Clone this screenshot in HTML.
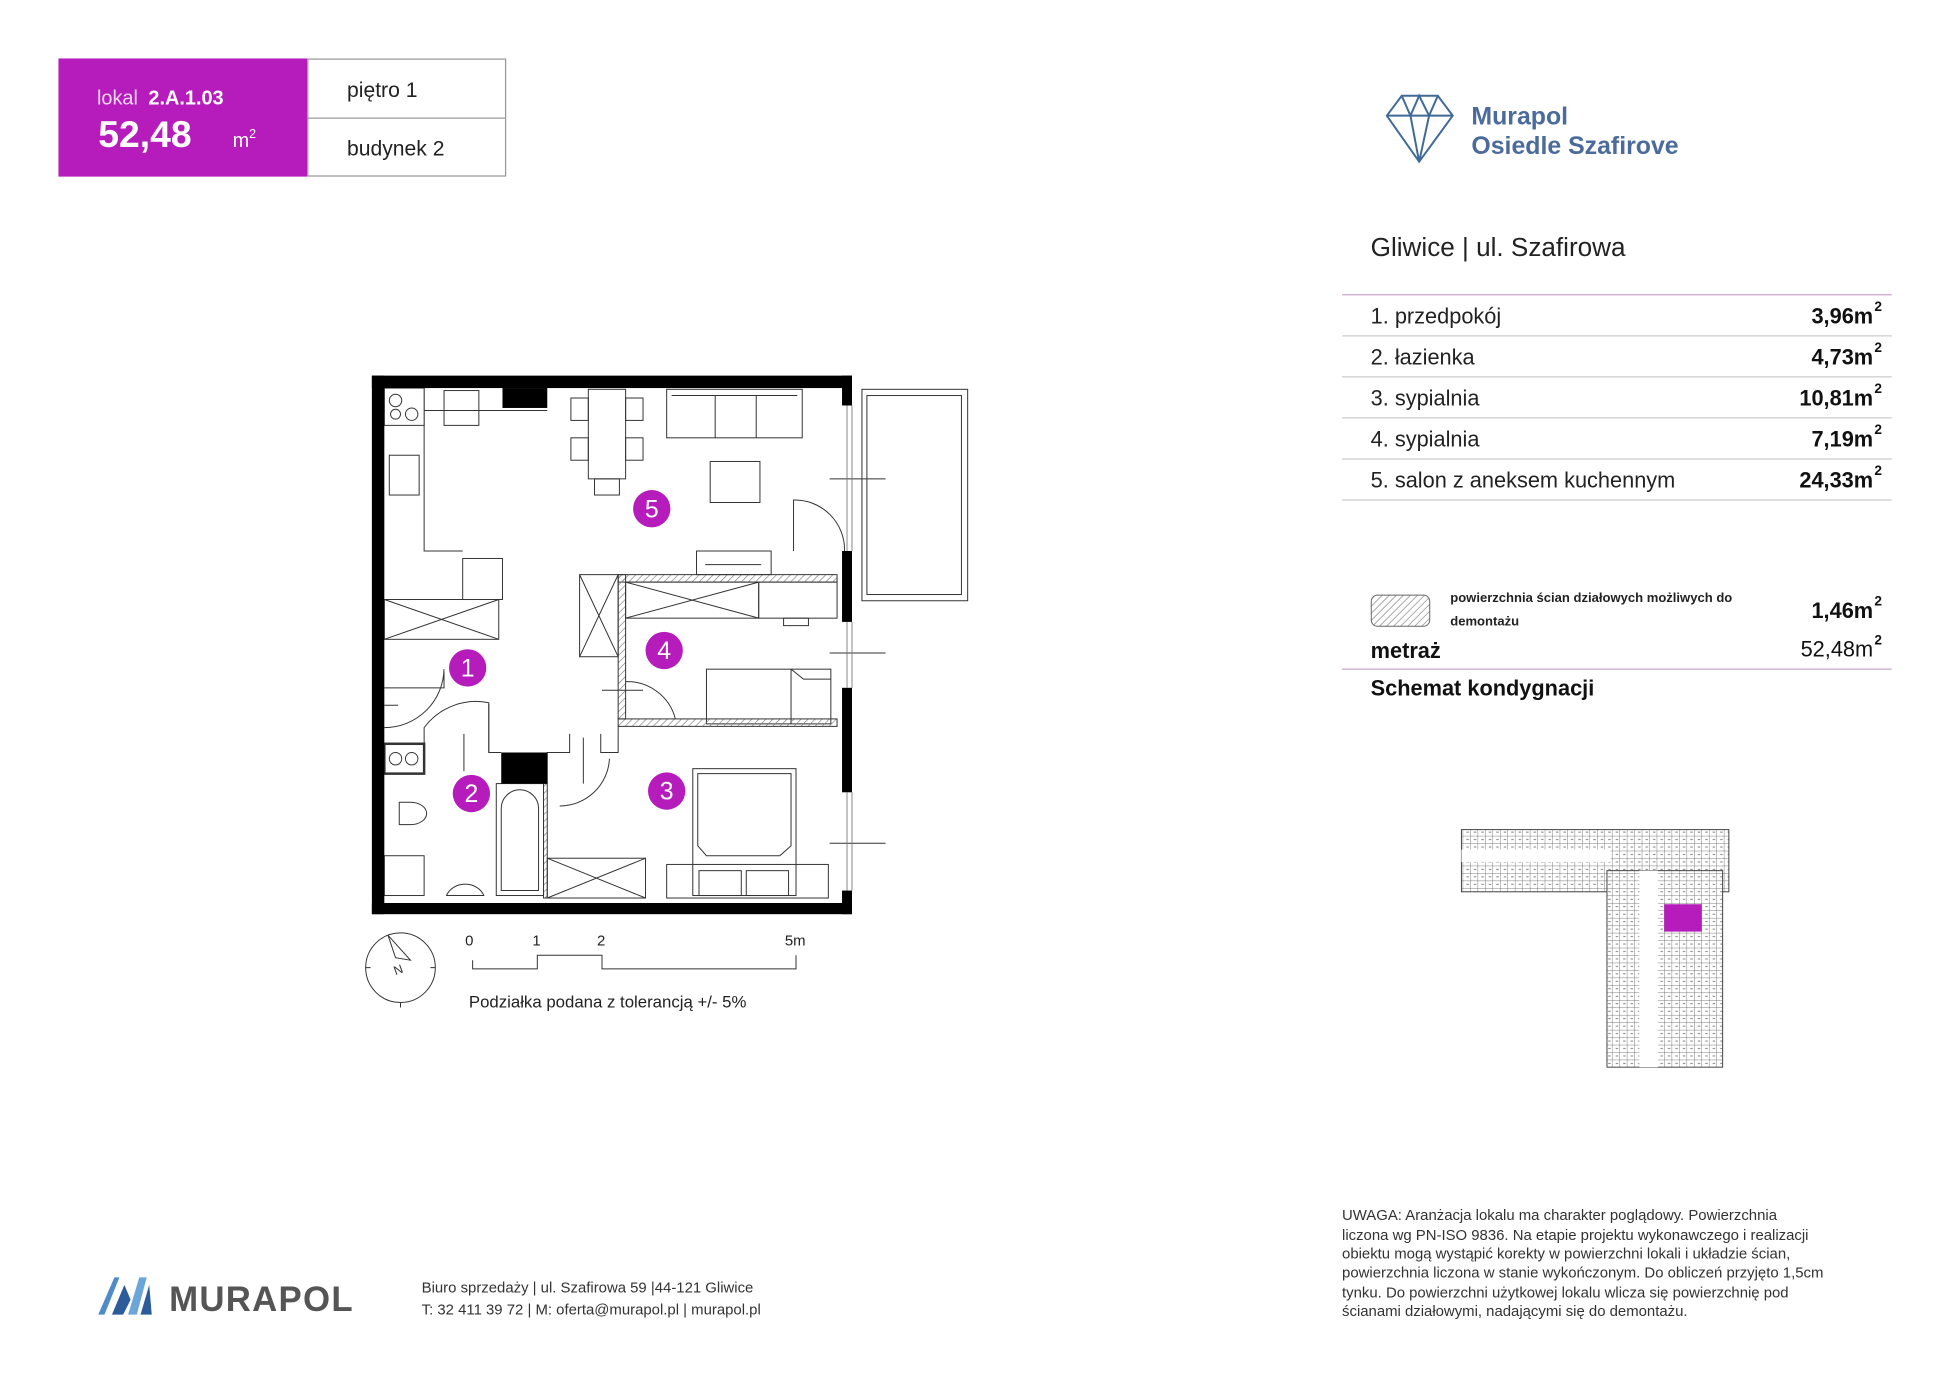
<!DOCTYPE html>
<html><head><meta charset="utf-8"><style>
html,body{margin:0;padding:0;background:#fff;}
svg{display:block;}
text{font-family:"Liberation Sans",sans-serif;}
</style></head><body>
<svg width="1949" height="1378" viewBox="0 0 1567 1107.9" xmlns="http://www.w3.org/2000/svg">
<defs>
<pattern id="h" width="4" height="4" patternUnits="userSpaceOnUse" patternTransform="rotate(45)"><line x1="0" y1="0" x2="0" y2="4" stroke="#777" stroke-width="1"/></pattern>
<pattern id="bld" width="6" height="6" patternUnits="userSpaceOnUse"><rect width="6" height="6" fill="#fff"/><path d="M0 0H6M0 0V6M3 3h2" stroke="#555" stroke-width="0.6" fill="none"/></pattern>
</defs>
<rect x="47" y="47" width="200" height="95" fill="#b51cbb"/>
<rect x="247.5" y="47.5" width="159" height="94" fill="#fff" stroke="#999"/>
<line x1="247" y1="95" x2="406" y2="95" stroke="#999"/>
<text x="78" y="84" fill="#f2d6f3" font-size="16">lokal <tspan font-weight="bold" fill="#fff" dx="4">2.A.1.03</tspan></text>
<text x="79" y="118" fill="#fff" font-size="30" font-weight="bold">52,48</text>
<text x="187" y="118" fill="#fff" font-size="16">m<tspan font-size="10" dy="-7">2</tspan></text>
<text x="279" y="78" font-size="17" fill="#222">piętro 1</text>
<text x="279" y="125" font-size="17" fill="#222">budynek 2</text>
<g fill="none" stroke="#3f6a98" stroke-width="1.6">
<path d="M1115 93 L1127 77 L1156 77 L1168 93 L1141 130 Z M1115 93 H1168 M1127 77 L1134 93 L1141 77 L1149 93 L1156 77 M1134 93 L1141 130 L1149 93"/>
</g>
<text x="1183" y="100" fill="#4a6b9c" font-size="20" font-weight="bold">Murapol</text>
<text x="1183" y="124" fill="#4a6b9c" font-size="20" font-weight="bold">Osiedle Szafirove</text>
<text x="1102" y="206" fill="#222" font-size="21">Gliwice | ul. Szafirowa</text>
<g stroke="#ccc" stroke-width="1">
<line x1="1079" y1="237" x2="1521" y2="237" stroke="#c9a6cc"/>
<line x1="1079" y1="270" x2="1521" y2="270"/>
<line x1="1079" y1="303" x2="1521" y2="303"/>
<line x1="1079" y1="336" x2="1521" y2="336"/>
<line x1="1079" y1="369" x2="1521" y2="369"/>
<line x1="1079" y1="402" x2="1521" y2="402"/>
<line x1="1079" y1="538" x2="1521" y2="538" stroke="#c9a6cc"/>
</g>
<g font-size="17.5" fill="#222">
<text x="1102" y="260">1. przedpokój</text>
<text x="1102" y="293">2. łazienka</text>
<text x="1102" y="326">3. sypialnia</text>
<text x="1102" y="359">4. sypialnia</text>
<text x="1102" y="392">5. salon z aneksem kuchennym</text>
</g>
<g font-size="17.5" fill="#111" font-weight="bold" text-anchor="end">
<text x="1506" y="260">3,96m</text><text x="1506" y="293">4,73m</text><text x="1506" y="326">10,81m</text><text x="1506" y="359">7,19m</text><text x="1506" y="392">24,33m</text>
<text x="1506" y="497">1,46m</text><text x="1506" y="528" font-weight="normal">52,48m</text>
</g>
<g font-size="11" fill="#111" font-weight="bold">
<text x="1507" y="250">2</text><text x="1507" y="283">2</text><text x="1507" y="316">2</text><text x="1507" y="349">2</text><text x="1507" y="382">2</text><text x="1507" y="487">2</text><text x="1507" y="518">2</text>
</g>
<rect x="1102.5" y="478.5" width="47" height="25" rx="5" fill="url(#h)" stroke="#666" stroke-width="0.8"/>
<text x="1166" y="484" font-size="10.5" font-weight="bold" fill="#222">powierzchnia ścian działowych możliwych do</text>
<text x="1166" y="503" font-size="10.5" font-weight="bold" fill="#222">demontażu</text>
<text x="1102" y="529" font-size="17.5" font-weight="bold" fill="#111">metraż</text>
<text x="1102" y="559" font-size="17.5" font-weight="bold" fill="#111">Schemat kondygnacji</text>
<g stroke="#444" stroke-width="0.8">
<rect x="1175" y="667" width="215" height="50" fill="url(#bld)"/>
<rect x="1292" y="700" width="93" height="158" fill="url(#bld)"/>
<rect x="1175" y="683" width="120" height="10" fill="#fff" stroke="none"/>
<rect x="1318" y="700" width="15" height="158" fill="#fff" stroke="none"/>
<rect x="1338" y="727" width="30" height="22" fill="#b51cbb" stroke="none"/>
</g>
<g font-size="12" fill="#333">
<text x="1079" y="981">UWAGA: Aranżacja lokalu ma charakter poglądowy. Powierzchnia</text>
<text x="1079" y="997">liczona wg PN-ISO 9836. Na etapie projektu wykonawczego i realizacji</text>
<text x="1079" y="1012">obiektu mogą wystąpić korekty w powierzchni lokali i układzie ścian,</text>
<text x="1079" y="1027">powierzchnia liczona w stanie wykończonym. Do obliczeń przyjęto 1,5cm</text>
<text x="1079" y="1043">tynku. Do powierzchni użytkowej lokalu wlicza się powierzchnię pod</text>
<text x="1079" y="1058">ścianami działowymi, nadającymi się do demontażu.</text>
</g>
<g fill="#4d8cc9"><path d="M79 1057 L92 1027 L96 1027 L84 1057Z"/><path d="M90 1057 L100 1033 L105 1045 L99 1057Z" fill="#2d5c9a"/><path d="M103 1057 L112 1027 L118 1027 L110 1057Z" fill="#6aa6d8"/><path d="M113 1057 L120 1033 L122 1057Z" fill="#2d5c9a"/></g>
<text x="136" y="1054" font-size="28" fill="#555" font-weight="bold" letter-spacing="1">MURAPOL</text>
<text x="339" y="1039" font-size="12" fill="#333">Biuro sprzedaży | ul. Szafirowa 59 |44-121 Gliwice</text>
<text x="339" y="1057" font-size="12" fill="#333">T: 32 411 39 72 | M: oferta@murapol.pl | murapol.pl</text>
<g fill="none" stroke="#333" stroke-width="0.8">
<rect x="693" y="313" width="85" height="170"/><rect x="697" y="318" width="76" height="160"/>
<line x1="667" y1="385" x2="712" y2="385"/><line x1="667" y1="525" x2="712" y2="525"/><line x1="667" y1="678" x2="712" y2="678"/>
<path d="M341 330 V443 H372 M309 330 H440 M341 330 V312"/>
<rect x="309" y="312" width="32" height="30" fill="#fff"/>
<circle cx="318" cy="322" r="5"/><circle cx="331" cy="333" r="5"/><circle cx="318" cy="333" r="4"/>
<rect x="357" y="314" width="28" height="28"/><rect x="313" y="366" width="24" height="32"/>
<rect x="372" y="449" width="32" height="33"/>
<rect x="309" y="482" width="92" height="32"/><path d="M309 482 L401 514 M401 482 L309 514"/>
<rect x="473" y="313" width="30" height="72"/><rect x="478" y="385" width="20" height="13"/>
<rect x="459" y="320" width="14" height="18"/><rect x="459" y="352" width="14" height="18"/><rect x="503" y="320" width="14" height="18"/><rect x="503" y="352" width="14" height="18"/>
<rect x="536" y="313" width="109" height="39"/><path d="M575 318 V352 M608 318 V352 M540 318 H641"/>
<rect x="571" y="371" width="40" height="33"/>
<rect x="560" y="443" width="60" height="19"/><line x1="567" y1="454" x2="612" y2="454"/>
<path d="M638 443 V402 A40 40 0 0 1 679 443"/>
<rect x="466" y="462" width="31" height="66"/><path d="M466 462 L497 528 M497 462 L466 528"/>
<rect x="503" y="468" width="107" height="29"/><path d="M503 468 L610 497 M610 468 L503 497"/>
<rect x="610" y="468" width="63" height="29"/><rect x="630" y="497" width="20" height="6"/>
<rect x="568" y="538" width="100" height="44"/><path d="M636 538 V582 M636 538 l10 8 h22"/>
<path d="M503 548 A40 40 0 0 1 543 578 M484 555 H517"/>
<rect x="557" y="618" width="83" height="102"/><path d="M561 622 H636 V680 L627 688 H568 L561 680 Z"/>
<rect x="536" y="695" width="130" height="27"/><rect x="562" y="700" width="34" height="20"/><rect x="600" y="700" width="34" height="20"/>
<rect x="440" y="690" width="79" height="32"/><path d="M440 690 L519 722 M519 690 L440 722"/>
<path d="M450 648 A40 40 0 0 0 490 610 M469 593 V630"/>
<path d="M309 585 A48 48 0 0 0 357 538 M309 553 H357 V540 M320 567 H309"/>
<path d="M341 605 V585 A52 52 0 0 1 393 565 V605 H403 M373 590 V620"/>
<path d="M393 566 V605"/>
<rect x="309" y="598" width="32" height="24" fill="#fff" stroke-width="2"/>
<circle cx="318" cy="610" r="5"/><circle cx="331" cy="610" r="5"/>
<rect x="399" y="630" width="38" height="90"/><path d="M403 716 V650 A15 15 0 0 1 433 650 V716 Z"/>
<path d="M321 645 H330 A13 9 0 1 1 330 663 H321 Z"/>
<rect x="309" y="688" width="32" height="32"/>
<path d="M359 720 A16 14 0 0 1 389 720 Z"/>
<path d="M440 630 V605 H458 V590 M483 590 V605 H497 V584"/>
</g>
<g fill="url(#h)" stroke="#333" stroke-width="0.8">
<rect x="497" y="462" width="176" height="6"/>
<rect x="497" y="578" width="176" height="6"/>
<rect x="497" y="462" width="6" height="116"/>
<rect x="437" y="630" width="3" height="92"/>
</g>
<g fill="#000">
<rect x="299" y="302" width="386" height="10"/>
<rect x="299" y="726" width="386" height="9"/>
<rect x="299" y="302" width="10" height="433"/>
<rect x="677" y="302" width="8" height="24"/>
<rect x="677" y="443" width="8" height="57"/>
<rect x="677" y="553" width="8" height="84"/>
<rect x="677" y="716" width="8" height="19"/>
<rect x="404" y="312" width="36" height="16"/>
<rect x="403" y="605" width="37" height="25"/>
</g>
<g stroke="#777" stroke-width="0.7" fill="none">
<path d="M681 326 V443 M681 500 V553 M681 637 V716"/><path d="M685 326 V443 M685 500 V553 M685 637 V716"/>
</g>
<g fill="#b51cbb"><circle cx="524" cy="409" r="15"/><circle cx="534" cy="523" r="15"/><circle cx="376" cy="537" r="15"/><circle cx="379" cy="638" r="15"/><circle cx="536" cy="636" r="15"/></g>
<g fill="#fff" font-size="20" text-anchor="middle"><text x="524" y="416">5</text><text x="534" y="530">4</text><text x="376" y="544">1</text><text x="379" y="645">2</text><text x="536" y="643">3</text></g>
<g stroke="#333" stroke-width="0.8" fill="none">
<circle cx="322" cy="778" r="28"/><path d="M312 752 L330 772 L318 770 Z"/>
<path d="M294 778h4M346 778h4M322 806v4"/>
<path d="M380 772 V779 H432 V768 H484 V779 H640 V768"/>
</g>
<text x="316" y="783" font-size="10" fill="#333" transform="rotate(-20 320 778)">N</text>
<g font-size="12" fill="#222"><text x="374" y="760">0</text><text x="428" y="760">1</text><text x="480" y="760">2</text><text x="631" y="760">5m</text></g>
<text x="377" y="810" font-size="13.5" fill="#222">Podziałka podana z tolerancją +/- 5%</text>
</svg>
</body></html>
